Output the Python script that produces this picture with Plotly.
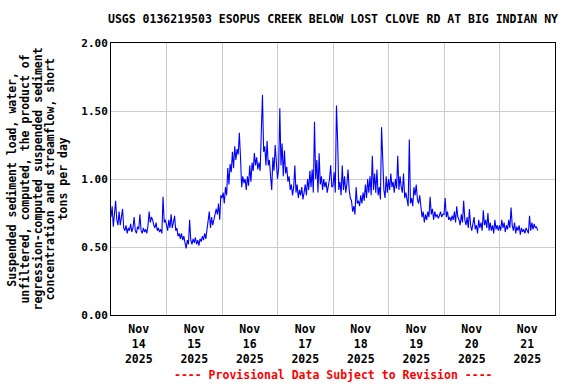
import plotly.graph_objects as go
import pandas as pd

title_text = "USGS 0136219503 ESOPUS CREEK BELOW LOST CLOVE RD AT BIG INDIAN NY"
y_title_lines = ["Suspended sediment load, water,",
                 "unfiltered, computed, the product of",
                 "regression-computed suspended sediment",
                 "concentration and streamflow, short",
                 "tons per day"]
footer = "---- Provisional Data Subject to Revision ----"

start_time = "2025-11-14 00:00"
interval = "30min"

nov14 = [0.72,0.80,0.65,0.78, 0.84,0.70,0.66,0.76, 0.66,0.72,0.78,0.64,
         0.62,0.66,0.60,0.64, 0.62,0.67,0.61,0.64, 0.72,0.62,0.60,0.65,
         0.63,0.74,0.62,0.60, 0.64,0.61,0.63,0.60, 0.66,0.76,0.68,0.72,
         0.70,0.66,0.64,0.68, 0.62,0.64,0.61,0.63, 0.60,0.87,0.68,0.70]
nov15 = [0.66,0.62,0.70,0.64, 0.74,0.64,0.68,0.73, 0.62,0.64,0.58,0.60,
         0.56,0.60,0.55,0.58, 0.53,0.49,0.55,0.52, 0.70,0.55,0.52,0.56,
         0.53,0.57,0.52,0.55, 0.51,0.56,0.54,0.58, 0.55,0.60,0.56,0.62,
         0.68,0.76,0.64,0.72, 0.66,0.70,0.74,0.78, 0.74,0.82,0.70,0.88]
nov16 = [0.86,0.90,0.82,0.94, 0.88,1.08,0.96,1.11, 1.05,1.20,1.08,1.24,
         1.14,1.22,1.18,1.34, 1.16,0.94,1.02,0.97, 1.00,0.92,1.02,0.95,
         1.10,0.98,1.12,1.06, 1.19,1.10,1.16,1.07, 1.12,1.06,1.35,1.62,
         1.20,1.24,1.10,1.28, 1.10,1.14,1.02,0.92, 1.16,1.06,1.25,1.08]
nov17 = [1.00,1.08,1.52,1.10, 1.26,1.02,1.21,1.04, 1.09,0.98,1.02,0.92,
         0.96,0.88,0.94,1.10, 0.90,0.96,0.86,0.92, 0.88,0.94,0.85,0.90,
         0.96,0.88,1.00,0.92, 1.06,0.94,1.07,0.90, 1.42,1.00,1.14,0.90,
         1.19,0.96,1.02,0.92, 1.00,0.94,0.98,0.90, 0.96,1.00,1.10,0.94]
nov18 = [0.95,1.05,0.90,1.54, 1.28,0.92,0.98,0.88, 1.10,0.92,1.02,0.90,
         0.96,1.07,0.92,0.86, 0.84,0.76,0.80,0.74, 0.94,0.82,0.84,0.80,
         0.88,0.82,0.90,0.84, 0.96,0.86,1.00,0.90, 1.02,0.88,1.17,0.92,
         1.04,0.90,1.07,0.88, 0.94,0.85,1.38,1.19, 0.92,0.86,1.02,0.90]
nov19 = [1.00,0.92,1.04,0.94, 0.98,0.90,1.00,0.93, 1.17,0.92,1.02,0.94,
         0.90,1.04,0.86,0.90, 0.84,0.80,1.29,0.82, 0.86,0.80,0.94,0.88,
         0.96,0.85,0.82,0.88, 0.80,0.72,0.76,0.68, 0.74,0.70,0.76,0.72,
         0.87,0.74,0.78,0.70, 0.76,0.72,0.74,0.71, 0.73,0.76,0.72,0.74]
nov20 = [0.74,0.86,0.72,0.76, 0.70,0.72,0.69,0.73, 0.70,0.76,0.68,0.80,
         0.72,0.70,0.66,0.74, 0.68,0.84,0.70,0.66, 0.72,0.64,0.78,0.66,
         0.62,0.68,0.72,0.63, 0.66,0.60,0.70,0.64, 0.68,0.62,0.77,0.66,
         0.70,0.64,0.75,0.62, 0.68,0.62,0.66,0.60, 0.70,0.63,0.66,0.62]
nov21 = [0.66,0.62,0.70,0.64, 0.68,0.61,0.66,0.63, 0.70,0.64,0.79,0.66,
         0.62,0.68,0.60,0.65, 0.62,0.66,0.59,0.64, 0.61,0.63,0.60,0.64,
         0.62,0.60,0.73,0.62, 0.68,0.63,0.67,0.64, 0.65,0.62]

values = nov14 + nov15 + nov16 + nov17 + nov18 + nov19 + nov20 + nov21
times = pd.date_range(start_time, periods=len(values), freq=interval)

day_starts = ["2025-11-14", "2025-11-15", "2025-11-16", "2025-11-17",
              "2025-11-18", "2025-11-19", "2025-11-20", "2025-11-21", "2025-11-22"]
label_times = ["2025-11-14 12:00", "2025-11-15 12:00", "2025-11-16 12:00", "2025-11-17 12:00",
               "2025-11-18 12:00", "2025-11-19 12:00", "2025-11-20 12:00", "2025-11-21 12:00"]
label_texts = ["Nov<br>14<br>2025", "Nov<br>15<br>2025", "Nov<br>16<br>2025", "Nov<br>17<br>2025",
               "Nov<br>18<br>2025", "Nov<br>19<br>2025", "Nov<br>20<br>2025", "Nov<br>21<br>2025"]
y_ticks = [0, 0.5, 1.0, 1.5, 2.0]
y_labels = ["0.00", "0.50", "1.00", "1.50", "2.00"]

FONT = "DejaVu Sans Mono"
PLOT_L, PLOT_W, PLOT_B, PLOT_H = 111, 444, 315, 272

fig = go.Figure()
fig.add_trace(go.Scatter(x=times, y=values, mode="lines",
                         line=dict(color="#0000FF", width=1.1), hoverinfo="skip"))

fig.update_layout(
    width=576, height=384,
    margin=dict(l=111, r=21, t=43, b=69),
    paper_bgcolor="white", plot_bgcolor="white",
    showlegend=False,
    font=dict(family=FONT, size=11, color="black", weight="bold"),
    title=dict(text=title_text, x=333 / 576, xanchor="center",
               y=1 - 19 / 384, yanchor="middle",
               font=dict(family=FONT, size=11.5, color="black", weight="bold")),
)

fig.update_xaxes(
    type="date", range=[day_starts[0], day_starts[-1]], automargin=False,
    tickmode="array", tickvals=label_times, ticktext=label_texts,
    showgrid=False, ticks="", showline=True, linecolor="black", linewidth=1, mirror=True,
    tickfont=dict(family=FONT, size=11.5, color="black", weight="bold"),
    ticklabelstandoff=3,
    minor=dict(tickvals=day_starts, showgrid=True, gridcolor="#cccccc", gridwidth=1, ticks=""),
    zeroline=False,
)
fig.update_yaxes(
    range=[0, 2], tickmode="array", tickvals=y_ticks, ticktext=y_labels, automargin=False,
    showgrid=True, gridcolor="#cccccc", gridwidth=1,
    ticks="", showline=True, linecolor="black", linewidth=1, mirror=True,
    tickfont=dict(family=FONT, size=11, color="black", weight="bold"),
    zeroline=False,
)

for k, line in enumerate(y_title_lines):
    px = 11.7 + k * 12.9
    fig.add_annotation(text=line, xref="paper", yref="paper",
                       x=(px - PLOT_L) / PLOT_W, y=0.5, xanchor="center", yanchor="middle",
                       textangle=-90, showarrow=False,
                       font=dict(family=FONT, size=11.5, color="black", weight="bold"))
fig.add_annotation(text=footer, xref="paper", yref="paper",
                   x=0.5, y=-(375 - PLOT_B) / PLOT_H, xanchor="center", yanchor="middle",
                   showarrow=False,
                   font=dict(family=FONT, size=11.5, color="#FF0000", weight="bold"))

fig.write_html("out.html", config={"displayModeBar": False},
               post_script="document.body.style.margin='0';document.body.style.padding='0';")
